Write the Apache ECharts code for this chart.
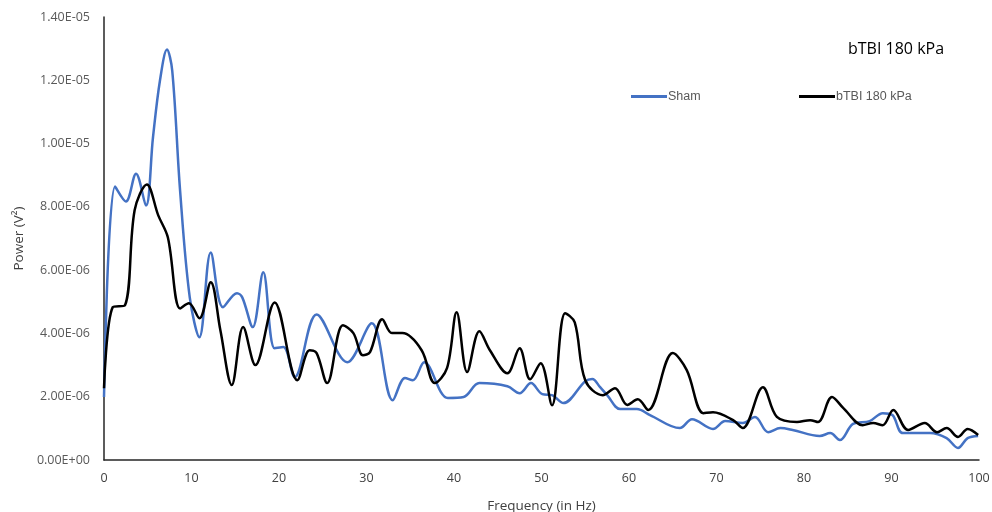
<!DOCTYPE html>
<html>
<head>
<meta charset="utf-8">
<script src="https://cdn.jsdelivr.net/npm/echarts@6/dist/echarts.min.js"></script>
<style>html,body{margin:0;padding:0;background:#fff}#c{width:992px;height:512px}</style>
</head>
<body>
<div id="c"></div>
<script>
// Power values in units of 1e-6 V^2
const shamFreq = [0,1.26,2.5,3.66,4.8,5.6,6.4,7.2,7.8,8.7,9.8,10.9,12.2,13.6,15.2,15.8,17.0,18.2,19.5,20.5,21.8,24.3,27.8,30.6,33.0,34.4,35.3,36.6,39.3,41.1,42.9,46.1,47.5,48.8,50.1,51.2,52.5,55.0,55.8,56.7,57.5,59.0,60.9,62.4,65.8,67.2,69.6,71.0,73.0,74.4,75.9,77.3,78.7,81.8,83.0,84.1,85.6,87.5,89.0,90.1,91.3,94.4,96.3,97.6,98.7,99.9];
const shamPower = [1.99,8.64,8.17,9.05,8.04,10.2,12.0,12.97,12.3,8.5,5.14,3.88,6.56,4.83,5.27,5.14,4.2,5.93,3.53,3.57,2.62,4.6,3.09,4.32,1.89,2.59,2.52,3.09,1.96,1.99,2.43,2.33,2.11,2.43,2.08,2.05,1.80,2.49,2.56,2.30,2.05,1.61,1.61,1.42,1.01,1.29,0.98,1.23,1.17,1.36,0.88,1.01,0.95,0.76,0.85,0.63,1.14,1.23,1.48,1.42,0.85,0.85,0.69,0.38,0.69,0.76];
const tbiFreq = [0,1.0,2.4,3.5,4.9,6.2,7.3,8.7,9.7,10.9,12.2,13.3,14.6,15.9,17.3,19.5,22.1,23.5,24.3,25.5,27.3,28.5,29.6,30.4,31.8,32.9,34.1,36.3,37.8,39.2,40.3,41.5,42.9,44.1,46.1,47.5,48.7,49.9,51.2,52.7,53.8,55.0,57.0,58.4,59.8,61.0,62.2,65.0,66.6,68.5,69.6,71.9,73.0,75.3,76.9,79.2,80.7,81.6,83.2,84.5,86.7,87.9,89.0,90.2,91.9,93.8,95.2,96.3,97.6,98.7,99.9];
const tbiPower = [2.27,4.83,4.89,7.89,8.71,7.73,7.03,4.79,4.95,4.48,5.62,4.10,2.37,4.20,3.00,4.98,2.52,3.47,3.38,2.43,4.26,4.01,3.31,3.41,4.45,4.01,4.01,3.47,2.43,2.90,4.67,2.78,4.07,3.47,2.74,3.53,2.55,3.06,1.73,4.64,4.35,2.52,2.05,2.27,1.74,1.92,1.58,3.38,2.84,1.48,1.51,1.26,1.01,2.30,1.36,1.20,1.26,1.20,1.99,1.64,1.10,1.17,1.10,1.58,0.95,1.17,0.88,1.01,0.73,0.98,0.79];
const seriesNames = ['Sham','bTBI 180 kPa'];
const titleText = 'bTBI 180 kPa';

function fmt(v){
  if (v === 0) return '0.00E+00';
  const e = Math.floor(Math.log10(v) + 1e-9);
  const m = v / Math.pow(10, e);
  const ex = e - 6;
  return m.toFixed(2) + 'E' + (ex < 0 ? '-' : '+') + String(Math.abs(ex)).padStart(2,'0');
}
const pairs = (xs, ys) => xs.map((x,i)=>[x, ys[i]]);
const font = 'Open Sans, Liberation Sans, sans-serif';

const chart = echarts.init(document.getElementById('c'));
chart.setOption({
  animation:false,
  title:{text:titleText, left:843, top:36, textStyle:{fontSize:16, fontWeight:'normal', color:'#000', fontFamily:'Open Sans, sans-serif'}},
  legend:[
    {data:[seriesNames[0]], left:626, top:85, itemWidth:36, itemHeight:3, itemGap:2, icon:'rect', textStyle:{color:'#595959', fontSize:12.5, fontFamily:'Liberation Sans, sans-serif', padding:[0,0,0,-4]}},
    {data:[seriesNames[1]], left:794, top:85, itemWidth:36, itemHeight:3, itemGap:2, icon:'rect', textStyle:{color:'#595959', fontSize:12.5, fontFamily:'Liberation Sans, sans-serif', padding:[0,0,0,-4]}}
  ],
  grid:{left:104, right:13, top:17, bottom:52, containLabel:false, outerBoundsMode:'none'},
  xAxis:{type:'value', min:0, max:100, interval:10,
    name:'Frequency (in Hz)', nameLocation:'middle', nameGap:39,
    nameTextStyle:{color:'#404040', fontSize:13.5, fontFamily:font},
    axisLine:{lineStyle:{color:'#262626', width:1.5}}, axisTick:{show:false},
    axisLabel:{color:'#404040', fontSize:12.5, fontFamily:font, margin:12},
    splitLine:{show:false}},
  yAxis:{type:'value', min:0, max:14, interval:2,
    name:'Power (V²)', nameLocation:'middle', nameGap:77, nameRotate:90,
    nameTextStyle:{color:'#404040', fontSize:13.5, fontFamily:font},
    axisLine:{show:true, lineStyle:{color:'#262626', width:1.5}}, axisTick:{show:false},
    axisLabel:{color:'#595959', fontSize:12.5, fontFamily:font, margin:14, formatter:fmt},
    splitLine:{show:false}},
  series:[
    {name:seriesNames[0], type:'line', smooth:0.35, symbol:'none', data:pairs(shamFreq, shamPower),
     lineStyle:{color:'#4472C4', width:2.5}, itemStyle:{color:'#4472C4'}},
    {name:seriesNames[1], type:'line', smooth:0.35, symbol:'none', data:pairs(tbiFreq, tbiPower),
     lineStyle:{color:'#000000', width:2.5}, itemStyle:{color:'#000000'}}
  ]
});
</script>
</body>
</html>
